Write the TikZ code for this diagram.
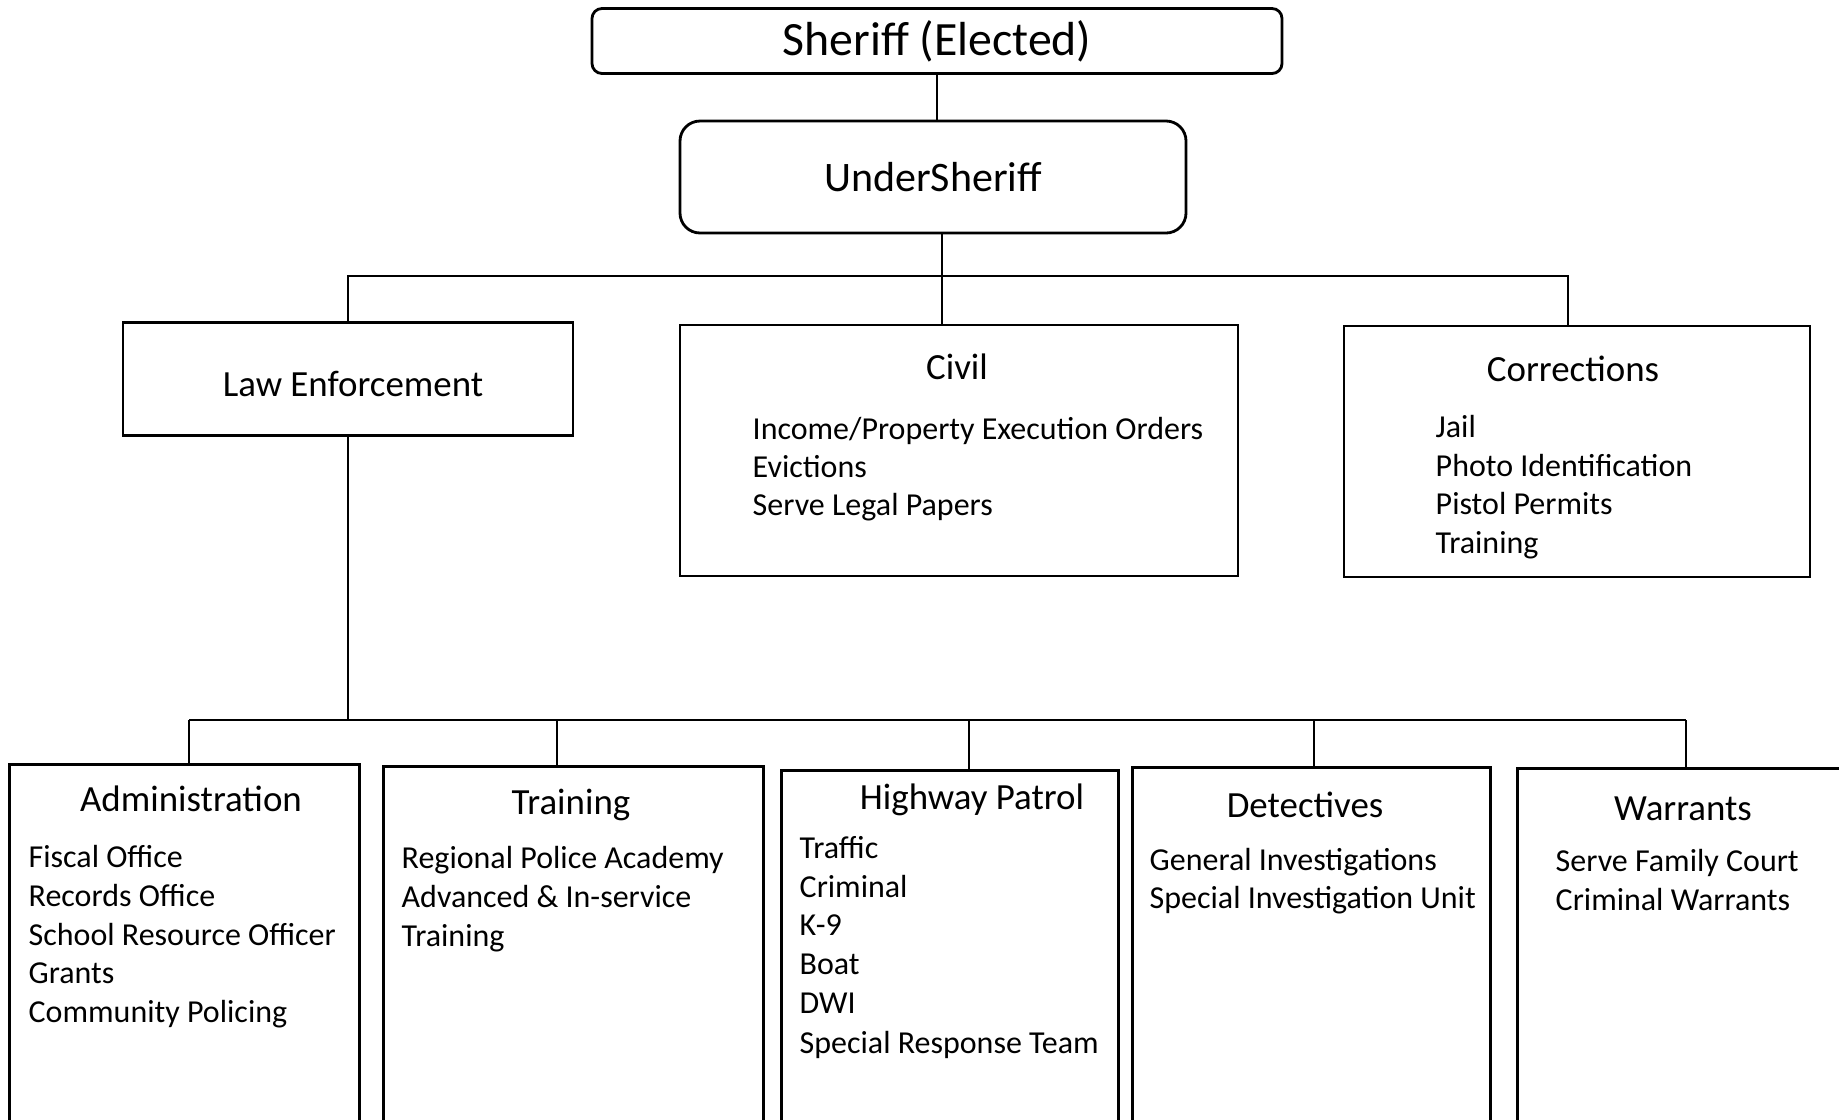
\documentclass[tikz,border=0pt]{standalone}
\usepackage{fontspec}
\setmainfont{Carlito}
\usepackage{tikz}
\usetikzlibrary{positioning}

\tikzset{
  topbox/.style={draw, line width=0.8pt, rounded corners=0.1cm, font=\fontsize{13.6}{16}\selectfont},
  underbox/.style={draw, line width=0.8pt, rounded corners=0.2cm, font=\fontsize{11.95}{14}\selectfont},
  unitbox/.style={draw, line width=0.8pt, inner sep=0pt},
  unittitle/.style={anchor=base, inner sep=0pt, font=\fontsize{10.5}{12.6}\selectfont},
  unititem/.style={anchor=base west, inner sep=0pt, font=\fontsize{9.1}{11}\selectfont},
  link/.style={line width=0.6pt}
}

\begin{document}
\begin{tikzpicture}
    \useasboundingbox (0,0) rectangle (18.39,-11.19);
    \clip (0,0) rectangle (18.39,-11.19);

    % Top of the chart
    \node[topbox, minimum width=6.90cm, minimum height=0.63cm] (sheriff) at (9.37,-0.41) {Sheriff (Elected)};
    \node[underbox, minimum width=5.06cm, minimum height=1.12cm] (under) at (9.33,-1.77) {UnderSheriff};

    % Divisions
    \node[unitbox, minimum width=4.50cm, minimum height=1.13cm] (le) at (3.48,-3.79) {};
    \node[unittitle] (le-t) at (3.53,-3.96) {Law Enforcement};
    \node[unitbox, minimum width=5.58cm, minimum height=2.51cm] (civ) at (9.59,-4.505) {};
    \node[unitbox, minimum width=4.66cm, minimum height=2.51cm] (corr) at (15.77,-4.515) {};

    \node[unittitle] (civ-t) at (9.57,-3.79) {Civil};
    \foreach \y/\label in {4.39/{Income/Property Execution Orders}, 4.77/Evictions, 5.15/Serve Legal Papers} {
        \node[unititem] at (7.52,-\y) {\label};
    }

    \node[unittitle] (corr-t) at (15.73,-3.81) {Corrections};
    \foreach \y/\label in {4.37/Jail, 4.76/Photo Identification, 5.14/Pistol Permits, 5.53/Training} {
        \node[unititem] at (14.35,-\y) {\label};
    }

    % Law enforcement units
    \node[unitbox, anchor=north west, minimum width=3.50cm, minimum height=3.57cm] (adm) at (0.08,-7.63) {};
    \node[unitbox, anchor=north west, minimum width=3.80cm, minimum height=3.55cm] (trn) at (3.82,-7.65) {};
    \node[unitbox, anchor=north west, minimum width=3.37cm, minimum height=3.51cm] (hwy) at (7.80,-7.69) {};
    \node[unitbox, anchor=north west, minimum width=3.58cm, minimum height=3.54cm] (det) at (11.31,-7.66) {};
    \node[unitbox, anchor=north west, minimum width=3.40cm, minimum height=3.53cm] (war) at (15.16,-7.67) {};

    \node[unittitle] (adm-t) at (1.91,-8.11) {Administration};
    \foreach \y/\label in {8.67/Fiscal Office, 9.06/Records Office, 9.45/School Resource Officer, 9.83/Grants, 10.22/Community Policing} {
        \node[unititem] at (0.28,-\y) {\label};
    }

    \node[unittitle] (trn-t) at (5.71,-8.14) {Training};
    \foreach \y/\label in {8.68/Regional Police Academy, 9.07/Advanced \& In-service, 9.46/Training} {
        \node[unititem] at (4.01,-\y) {\label};
    }

    \node[unittitle] (hwy-t) at (9.72,-8.09) {Highway Patrol};
    \foreach \y/\label in {8.58/Traffic, 8.97/Criminal, 9.35/K-9, 9.74/Boat, 10.13/DWI, 10.53/Special Response Team} {
        \node[unititem] at (7.99,-\y) {\label};
    }

    \node[unittitle] (det-t) at (13.05,-8.17) {Detectives};
    \foreach \y/\label in {8.70/General Investigations, 9.08/Special Investigation Unit} {
        \node[unititem] at (11.49,-\y) {\label};
    }

    \node[unittitle] (war-t) at (16.83,-8.20) {Warrants};
    \foreach \y/\label in {8.71/Serve Family Court, 9.10/Criminal Warrants} {
        \node[unititem] at (15.55,-\y) {\label};
    }

    % Connectors
    \draw[link] (sheriff.south) -- (sheriff.south |- under.north);
    \coordinate (top-bar) at (9.42,-2.76);
    \coordinate (corr-drop) at (15.68,-2.76);
    \draw[link] (top-bar |- under.south) -- (top-bar |- civ.north);
    \draw[link] (le.north) |- (corr-drop) -- (corr-drop |- corr.north);

    \coordinate (le-bar) at (3.48,-7.20);
    \draw[link] (le.south) -- (le-bar);
    \foreach \n/\x in {adm/1.89, trn/5.57, hwy/9.69, det/13.14, war/16.86} {
        \coordinate (\n-drop) at (\x,-7.20);
        \draw[link] (\n-drop) -- (\n-drop |- \n.north);
    }
    \draw[link] (adm-drop) -- (war-drop);
\end{tikzpicture}
\end{document}
